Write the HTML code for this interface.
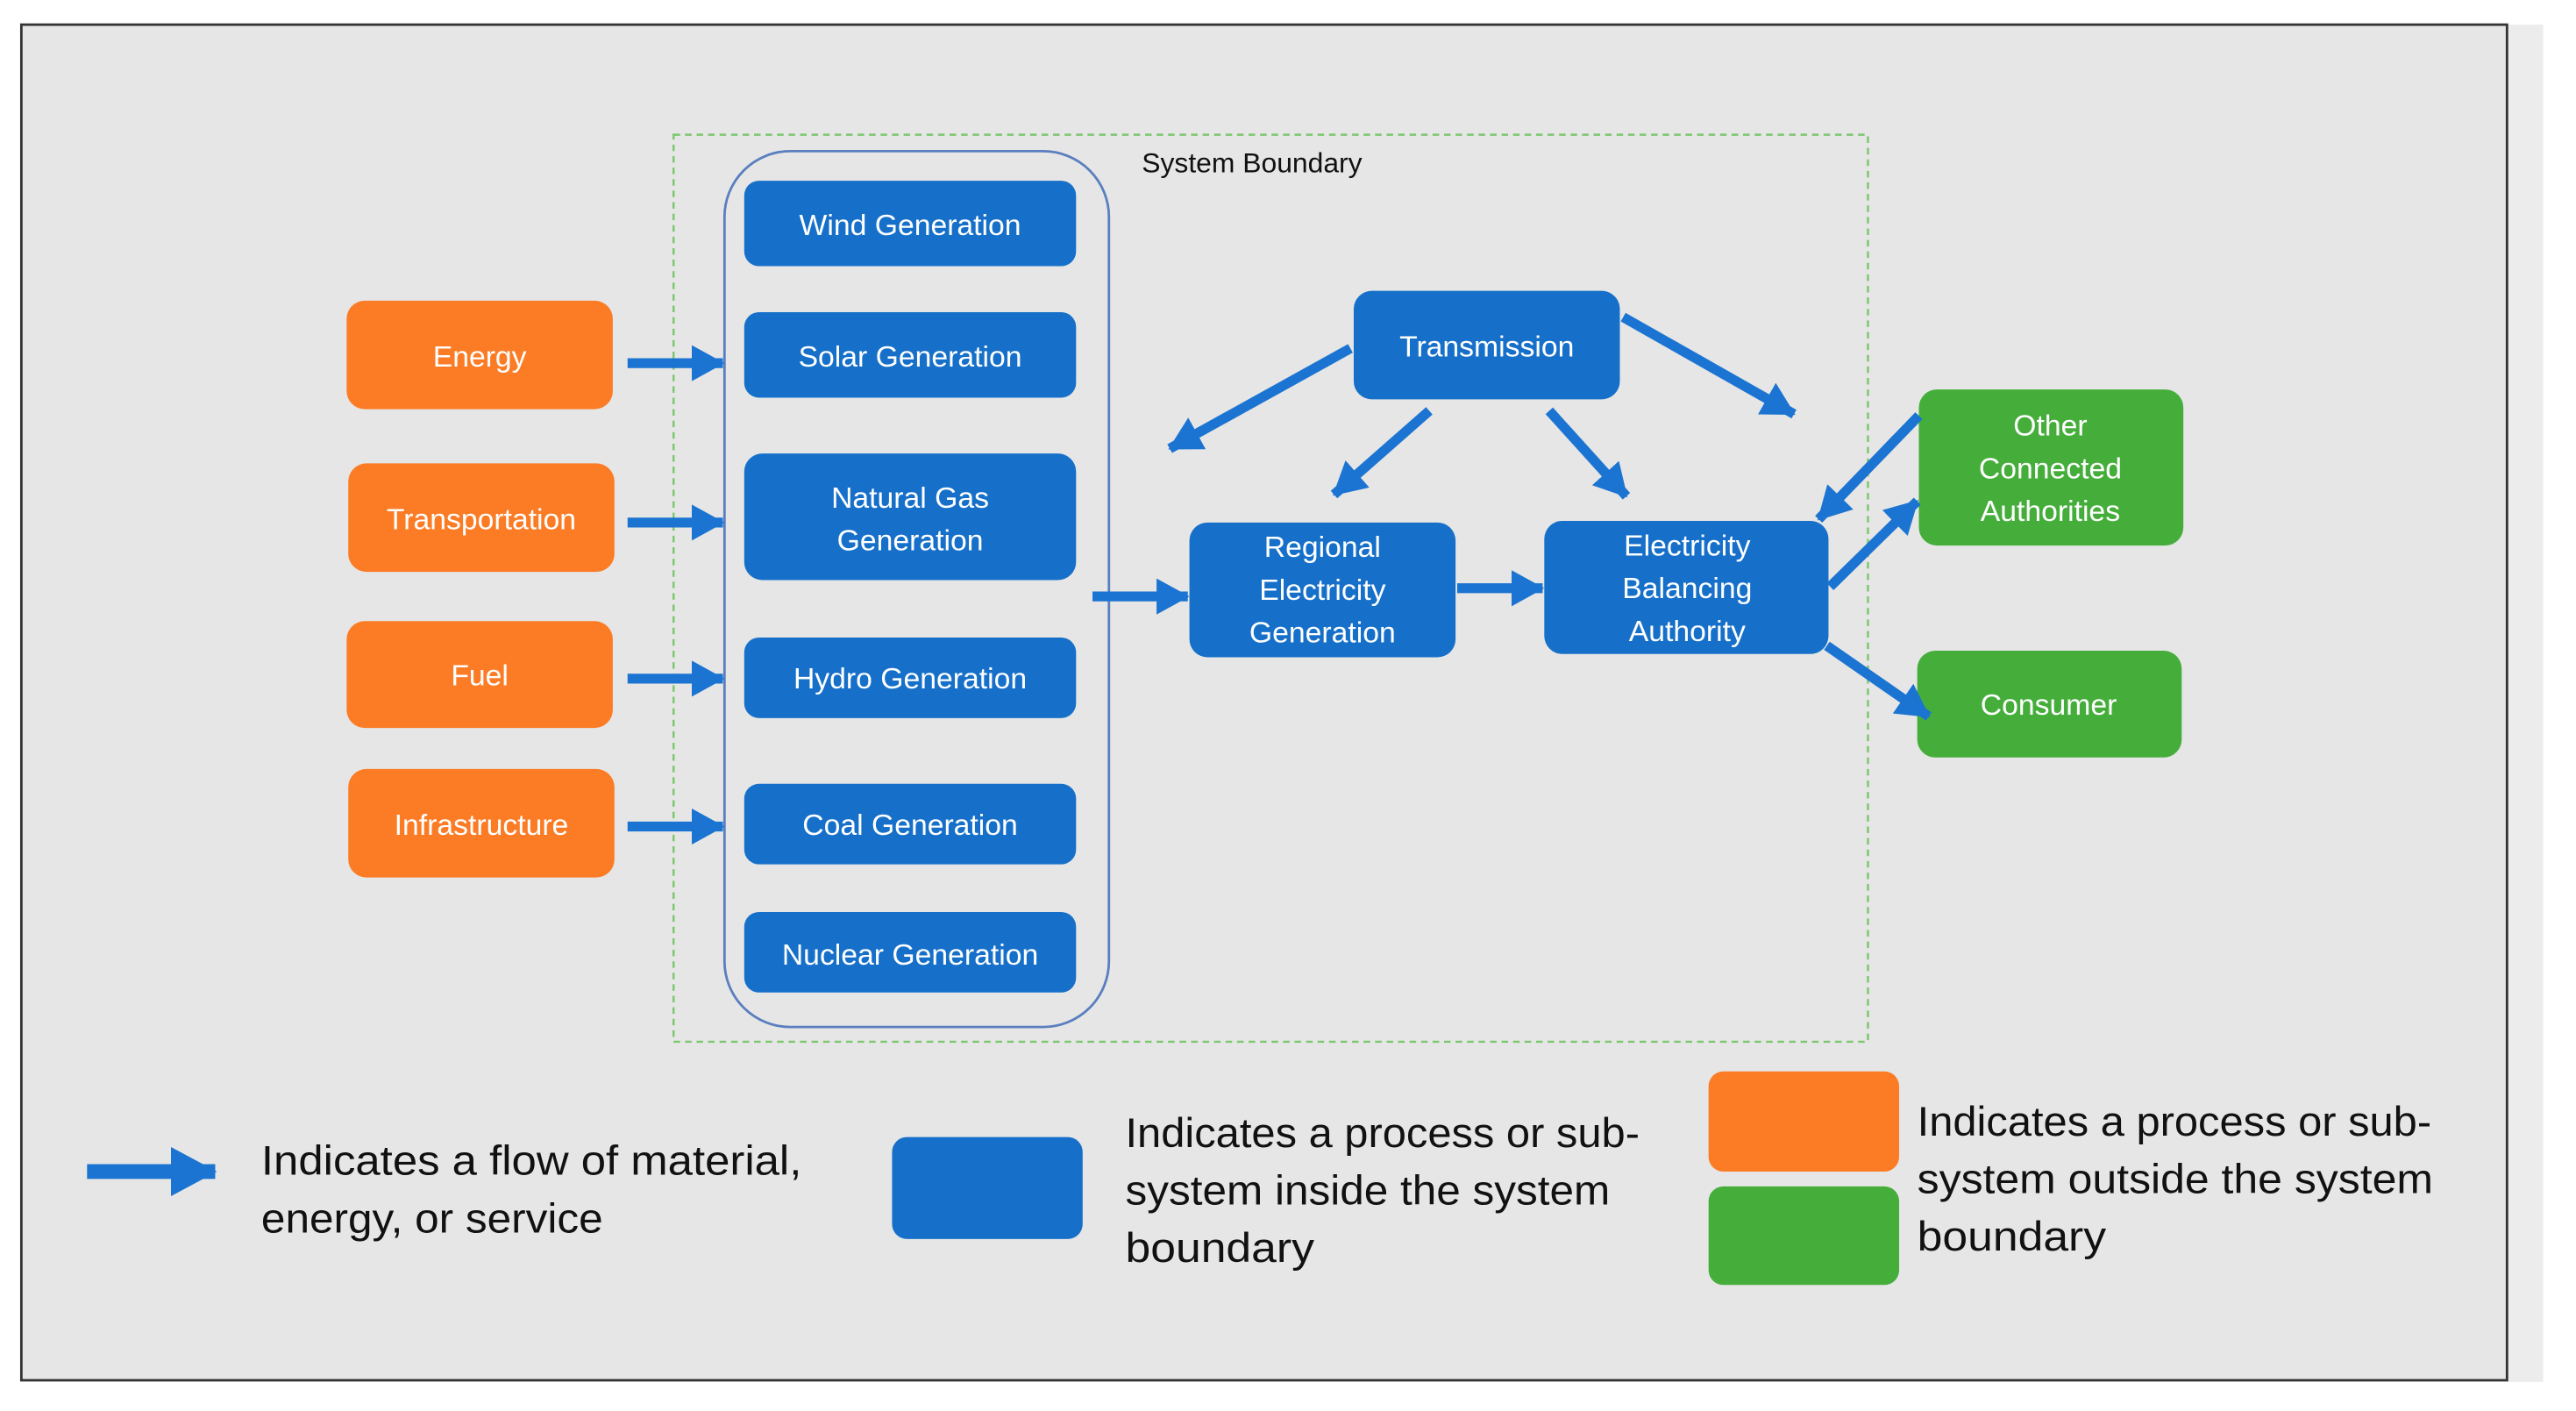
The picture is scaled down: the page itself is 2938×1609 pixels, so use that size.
<!DOCTYPE html>
<html><head><meta charset="utf-8"><style>
html,body{margin:0;padding:0;background:#fff;}
svg{display:block;}
text{font-family:"Liberation Sans",sans-serif;}
.w{fill:#fff;font-size:18px;text-anchor:middle;}
.l{fill:#111;font-size:25px;}
</style></head><body>
<svg width="2938" height="1609" viewBox="0 0 1568 858.7" preserveAspectRatio="none" xmlns="http://www.w3.org/2000/svg">
<defs>
<marker id="a" markerUnits="userSpaceOnUse" markerWidth="20" markerHeight="22" refX="19" refY="11" orient="auto">
<path d="M0,0 L20,11 L0,22 z" fill="#1b74d1"/></marker>
<marker id="b" markerUnits="userSpaceOnUse" markerWidth="28" markerHeight="30" refX="27" refY="15" orient="auto">
<path d="M0,0 L28,15 L0,30 z" fill="#1b74d1"/></marker>
</defs>
<rect x="0" y="0" width="1568" height="860" fill="#fff"/>
<rect x="1526" y="15" width="22" height="826" fill="#ececec"/>
<rect x="13" y="15" width="1513" height="825" fill="#e6e6e6" stroke="#333" stroke-width="1.5"/>
<rect x="410" y="82" width="727" height="552" fill="none" stroke="#7cc76f" stroke-width="1.3" stroke-dasharray="4,3"/>
<text x="695" y="105" style="font-size:17px;fill:#111">System Boundary</text>
<rect x="441" y="92" width="234" height="533" rx="40" fill="none" stroke="#5a7fbf" stroke-width="1.5"/>
<g fill="#1670c9">
<rect x="453" y="110" width="202" height="52" rx="9"/>
<rect x="453" y="190" width="202" height="52" rx="9"/>
<rect x="453" y="276" width="202" height="77" rx="11"/>
<rect x="453" y="388" width="202" height="49" rx="9"/>
<rect x="453" y="477" width="202" height="49" rx="9"/>
<rect x="453" y="555" width="202" height="49" rx="9"/>
<rect x="824" y="177" width="162" height="66" rx="11"/>
<rect x="724" y="318" width="162" height="82" rx="11"/>
<rect x="940" y="317" width="173" height="81" rx="11"/>
</g>
<g fill="#fb7c25">
<rect x="211" y="183" width="162" height="66" rx="11"/>
<rect x="212" y="282" width="162" height="66" rx="11"/>
<rect x="211" y="378" width="162" height="65" rx="11"/>
<rect x="212" y="468" width="162" height="66" rx="11"/>
</g>
<g fill="#45ae3b">
<rect x="1168" y="237" width="161" height="95" rx="11"/>
<rect x="1167" y="396" width="161" height="65" rx="11"/>
</g>
<g class="w">
<text x="554" y="143" class="w">Wind Generation</text>
<text x="554" y="223" class="w">Solar Generation</text>
<text x="554" y="309" class="w">Natural Gas</text>
<text x="554" y="335" class="w">Generation</text>
<text x="554" y="419" class="w">Hydro Generation</text>
<text x="554" y="508" class="w">Coal Generation</text>
<text x="554" y="587" class="w">Nuclear Generation</text>
<text x="905" y="217" class="w">Transmission</text>
<text x="805" y="339" class="w">Regional</text>
<text x="805" y="365" class="w">Electricity</text>
<text x="805" y="391" class="w">Generation</text>
<text x="1027" y="338" class="w">Electricity</text>
<text x="1027" y="364" class="w">Balancing</text>
<text x="1027" y="390" class="w">Authority</text>
<text x="292" y="223" class="w">Energy</text>
<text x="293" y="322" class="w">Transportation</text>
<text x="292" y="417" class="w">Fuel</text>
<text x="293" y="508" class="w">Infrastructure</text>
<text x="1248" y="265" class="w">Other</text>
<text x="1248" y="291" class="w">Connected</text>
<text x="1248" y="317" class="w">Authorities</text>
<text x="1247" y="435" class="w">Consumer</text>
</g>
<g stroke="#1b74d1" stroke-width="6" marker-end="url(#a)">
<line x1="382" y1="221" x2="440" y2="221"/>
<line x1="382" y1="318" x2="440" y2="318"/>
<line x1="382" y1="413" x2="440" y2="413"/>
<line x1="382" y1="503" x2="440" y2="503"/>
<line x1="665" y1="363" x2="723" y2="363"/>
<line x1="887" y1="358" x2="939" y2="358"/>
<line x1="822" y1="212" x2="712" y2="273"/>
<line x1="870" y1="250" x2="812" y2="301"/>
<line x1="943" y1="250" x2="990" y2="302"/>
<line x1="988" y1="193" x2="1092" y2="252"/>
<line x1="1114" y1="357" x2="1167" y2="305"/>
<line x1="1168" y1="253" x2="1107" y2="316"/>
<line x1="1112" y1="393" x2="1174" y2="436"/>
</g>
<line x1="53" y1="713" x2="131" y2="713" stroke="#1b74d1" stroke-width="9" marker-end="url(#b)"/>
<rect x="543" y="692" width="116" height="62" rx="9" fill="#1670c9"/>
<rect x="1040" y="652" width="116" height="61" rx="9" fill="#fb7c25"/>
<rect x="1040" y="722" width="116" height="60" rx="9" fill="#45ae3b"/>
<text class="l" x="159" y="715" textLength="329" lengthAdjust="spacingAndGlyphs">Indicates a flow of material,</text>
<text class="l" x="159" y="750" textLength="208" lengthAdjust="spacingAndGlyphs">energy, or service</text>
<text class="l" x="685" y="698" textLength="313" lengthAdjust="spacingAndGlyphs">Indicates a process or sub-</text>
<text class="l" x="685" y="733" textLength="295" lengthAdjust="spacingAndGlyphs">system inside the system</text>
<text class="l" x="685" y="768" textLength="115" lengthAdjust="spacingAndGlyphs">boundary</text>
<text class="l" x="1167" y="691" textLength="313" lengthAdjust="spacingAndGlyphs">Indicates a process or sub-</text>
<text class="l" x="1167" y="726" textLength="314" lengthAdjust="spacingAndGlyphs">system outside the system</text>
<text class="l" x="1167" y="761" textLength="115" lengthAdjust="spacingAndGlyphs">boundary</text>
</svg>
</body></html>
